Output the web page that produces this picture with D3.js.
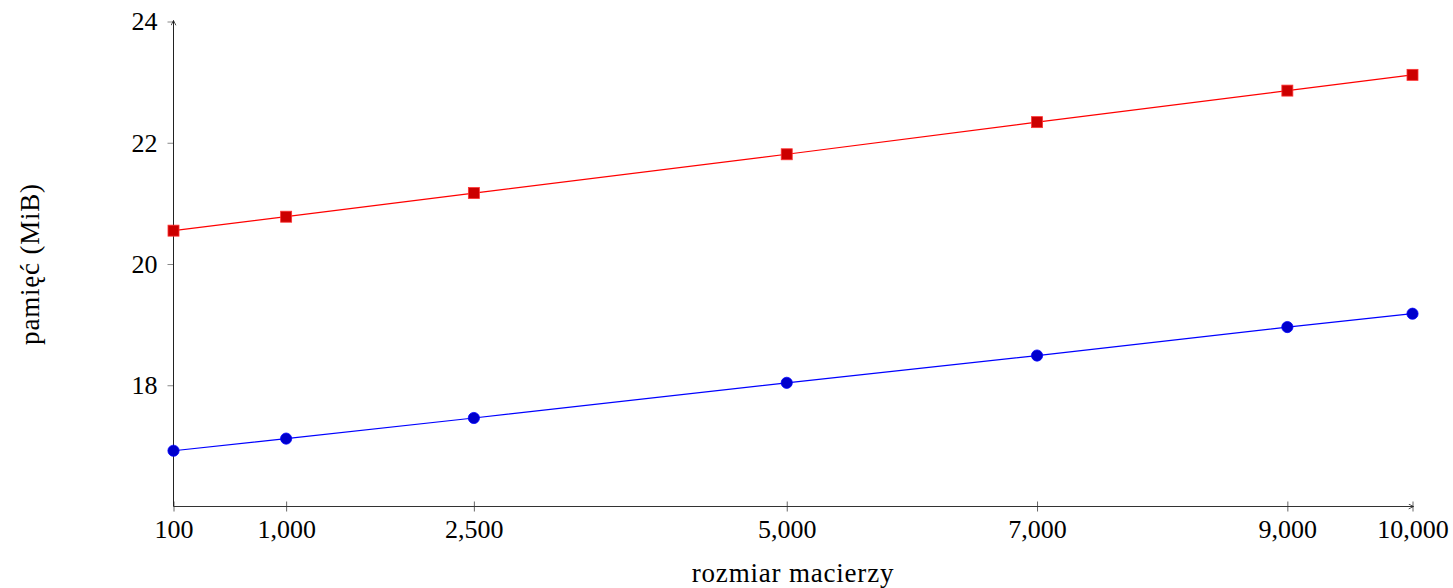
<!DOCTYPE html>
<html>
<head>
<meta charset="utf-8">
<script src="https://cdn.jsdelivr.net/npm/d3@7"></script>
<style>
	body { margin: 0; background: #fff; }
	svg text { font-family: "Liberation Serif", "DejaVu Serif", serif; fill: #000; }
</style>
</head>
<body>
<div class="chart"></div>
<script>
const sizes = [100, 1000, 2500, 5000, 7000, 9000, 10000];
const redMem = [20.55, 20.78, 21.17, 21.81, 22.34, 22.86, 23.12];
const blueMem = [16.92, 17.12, 17.46, 18.04, 18.49, 18.96, 19.18];
const yTicks = [18, 20, 22, 24];

const width = 1453, height = 588;
const x0 = 173.5, x1 = 1412.5, yTop = 21.5, yBot = 506.5;

const svg = d3.select(".chart").append("svg")
	.attr("width", width)
	.attr("height", height);

const x = d3.scaleLinear().domain([100, 10000]).range([x0, x1]);
const y = d3.scaleLinear().domain([16, 24]).range([yBot, yTop]);

// arrow heads
const defs = svg.append("defs");
defs.append("marker")
	.attr("id", "arr")
	.attr("viewBox", "0 0 10 10")
	.attr("refX", 9).attr("refY", 5)
	.attr("markerWidth", 6).attr("markerHeight", 6)
	.attr("orient", "auto")
	.append("path")
	.attr("d", "M1,1 L9,5 L1,9")
	.attr("fill", "none")
	.attr("stroke", "#222")
	.attr("stroke-width", 1.3);

// x axis
const xAxis = svg.append("g").attr("transform", `translate(0,${yBot})`)
	.call(d3.axisBottom(x).tickValues(sizes).tickSize(0).tickPadding(13)
		.tickFormat(d3.format(",")));
xAxis.select(".domain").remove();
xAxis.selectAll("text").style("font-size", "26px");
xAxis.selectAll(".tick").append("line")
	.attr("y1", -5).attr("y2", 5)
	.attr("stroke", "#666");
svg.append("line")
	.attr("x1", x0).attr("x2", x1 + 1)
	.attr("y1", yBot).attr("y2", yBot)
	.attr("stroke", "#333")
	.attr("marker-end", "url(#arr)");

// y axis
const yAxis = svg.append("g").attr("transform", `translate(${x0},0)`)
	.call(d3.axisLeft(y).tickValues(yTicks).tickSize(6).tickPadding(10));
yAxis.select(".domain").remove();
yAxis.selectAll(".tick line").attr("stroke", "#888");
yAxis.selectAll("text").style("font-size", "26px");
svg.append("line")
	.attr("x1", x0).attr("x2", x0)
	.attr("y1", yBot).attr("y2", yTop - 1)
	.attr("stroke", "#222")
	.attr("marker-end", "url(#arr)");

// axis titles
svg.append("text")
	.attr("x", (x0 + x1) / 2)
	.attr("y", 582)
	.attr("text-anchor", "middle")
	.style("font-size", "27px")
	.style("letter-spacing", "0.8px")
	.text("rozmiar macierzy");
svg.append("text")
	.attr("transform", `translate(39,${(yTop + yBot) / 2}) rotate(-90)`)
	.attr("text-anchor", "middle")
	.style("font-size", "27px")
	.style("letter-spacing", "0.8px")
	.text("pamięć (MiB)");

const line = d3.line().x((d) => x(d[0])).y((d) => y(d[1]));

const red = sizes.map((s, i) => [s, redMem[i]]);
const blue = sizes.map((s, i) => [s, blueMem[i]]);

svg.append("path").datum(red)
	.attr("d", line).attr("fill", "none")
	.attr("stroke", "#ff0000").attr("stroke-width", 1.2);
svg.selectAll(".sq").data(red).enter().append("rect")
	.attr("x", (d) => x(d[0]) - 5.5)
	.attr("y", (d) => y(d[1]) - 5.5)
	.attr("width", 11).attr("height", 11)
	.attr("fill", "#cc0000")
	.attr("stroke", "#ff3333").attr("stroke-width", 0.8);

svg.append("path").datum(blue)
	.attr("d", line).attr("fill", "none")
	.attr("stroke", "#0000ff").attr("stroke-width", 1.2);
svg.selectAll(".dot").data(blue).enter().append("circle")
	.attr("cx", (d) => x(d[0]))
	.attr("cy", (d) => y(d[1]))
	.attr("r", 5.6)
	.attr("fill", "#0000cc")
	.attr("stroke", "#0000ff").attr("stroke-width", 0.8);
</script>
</body>
</html>
